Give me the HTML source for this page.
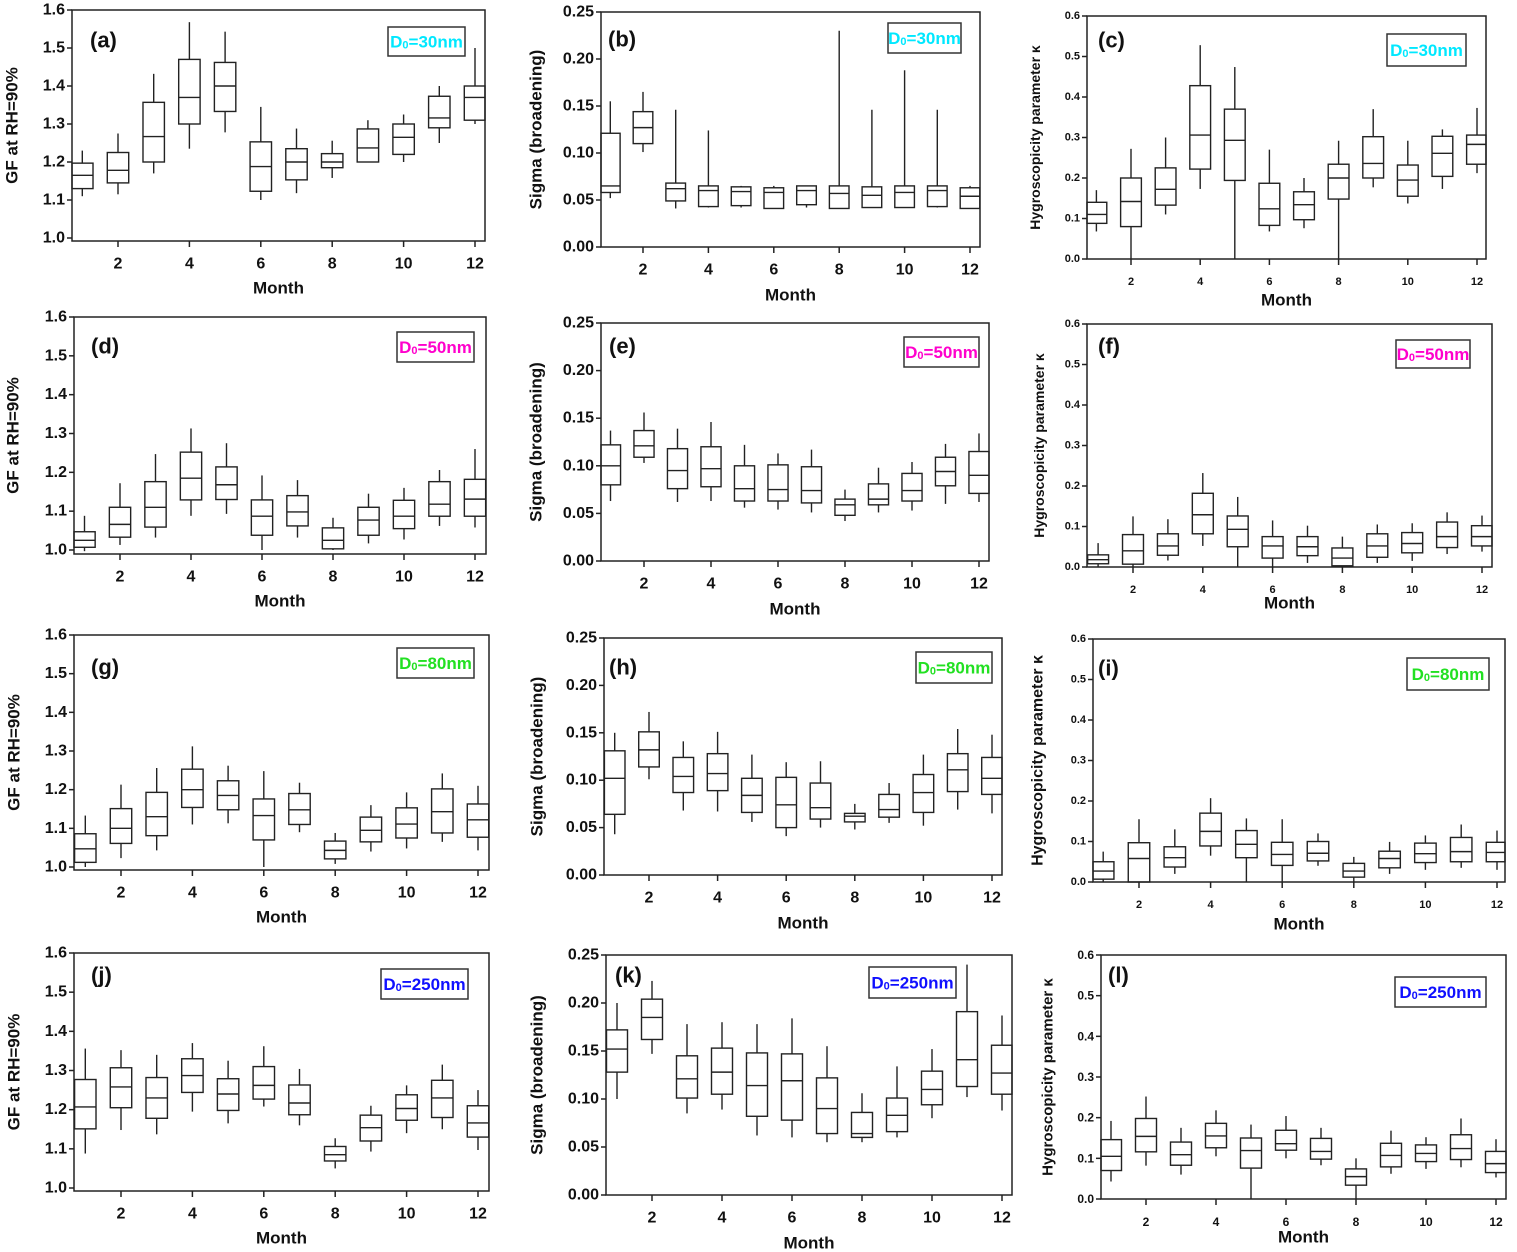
<!DOCTYPE html>
<html><head><meta charset="utf-8">
<style>
html,body{margin:0;padding:0;background:#fff;}
svg{display:block;font-family:"Liberation Sans",Arial,sans-serif;font-weight:bold;}
</style></head>
<body>
<svg id="fig" width="1517" height="1252" viewBox="0 0 1517 1252" xmlns="http://www.w3.org/2000/svg"></svg>
<script>
// ---- data: each month [whiskerLow, q1, median, q3, whiskerHigh]
const months = [1,2,3,4,5,6,7,8,9,10,11,12];
const xTickLabels = ["2","4","6","8","10","12"];
const gfTicks = ["1.0","1.1","1.2","1.3","1.4","1.5","1.6"];
const sigmaTicks = ["0.00","0.05","0.10","0.15","0.20","0.25"];
const kappaTicks = ["0.0","0.1","0.2","0.3","0.4","0.5","0.6"];
const dataA = [[1.11,1.13,1.165,1.197,1.23],[1.115,1.145,1.178,1.225,1.275],[1.17,1.2,1.267,1.357,1.432],[1.235,1.3,1.37,1.47,1.568],[1.278,1.333,1.4,1.462,1.543],[1.1,1.123,1.188,1.253,1.345],[1.118,1.153,1.2,1.235,1.288],[1.158,1.185,1.2,1.222,1.256],[1.2,1.2,1.237,1.287,1.31],[1.2,1.22,1.265,1.3,1.325],[1.25,1.29,1.316,1.373,1.4],[1.3,1.31,1.37,1.4,1.5]];
const dataB = [[.052,.058,.065,.121,.155],[.101,.11,.127,.144,.165],[.041,.049,.062,.068,.146],[.042,.043,.06,.065,.124],[.042,.044,.059,.064,.065],[.041,.041,.058,.063,.065],[.042,.045,.06,.065,.065],[.041,.041,.057,.065,.23],[.042,.042,.055,.064,.146],[.042,.042,.058,.065,.188],[.042,.043,.06,.065,.146],[.041,.041,.054,.063,.065]];
const dataC = [[.068,.088,.11,.14,.17],[0,.08,.142,.2,.272],[.11,.133,.172,.225,.3],[.173,.222,.306,.428,.528],[0,.194,.293,.37,.474],[.068,.083,.124,.187,.27],[.076,.097,.134,.166,.2],[0,.148,.2,.234,.292],[.177,.2,.236,.302,.37],[.137,.155,.195,.232,.292],[.173,.204,.261,.303,.32],[.212,.234,.283,.306,.373]];
const dataD = [[.997,1.007,1.025,1.047,1.088],[1.013,1.033,1.066,1.11,1.172],[1.032,1.059,1.11,1.176,1.247],[1.088,1.129,1.185,1.252,1.313],[1.093,1.13,1.168,1.214,1.275],[1.0,1.038,1.087,1.129,1.192],[1.032,1.062,1.098,1.14,1.18],[1.0,1.003,1.025,1.057,1.083],[1.017,1.038,1.077,1.11,1.145],[1.027,1.055,1.087,1.128,1.16],[1.062,1.087,1.118,1.176,1.206],[1.058,1.087,1.131,1.182,1.26]];
const dataE = [[.063,.08,.1,.122,.137],[.103,.109,.121,.137,.156],[.062,.076,.095,.118,.139],[.063,.078,.097,.12,.146],[.056,.063,.076,.1,.122],[.054,.063,.075,.101,.113],[.051,.061,.074,.099,.117],[.042,.048,.059,.065,.075],[.051,.059,.065,.081,.098],[.053,.063,.074,.092,.104],[.06,.079,.094,.109,.123],[.062,.071,.09,.115,.134]];
const dataF = [[0,.008,.018,.03,.059],[0,.007,.04,.08,.125],[.016,.029,.052,.082,.118],[.052,.082,.129,.182,.232],[0,.05,.093,.126,.173],[0,.022,.052,.075,.115],[.01,.028,.05,.075,.102],[0,.003,.022,.047,.075],[.01,.024,.052,.082,.105],[.015,.035,.058,.085,.108],[.032,.048,.075,.111,.135],[.038,.052,.075,.102,.127]];
const dataG = [[1.0,1.012,1.047,1.086,1.133],[1.023,1.061,1.1,1.151,1.213],[1.043,1.081,1.13,1.193,1.256],[1.11,1.154,1.2,1.253,1.312],[1.113,1.148,1.185,1.223,1.262],[1.0,1.07,1.133,1.176,1.248],[1.09,1.11,1.148,1.19,1.218],[1.008,1.021,1.043,1.067,1.088],[1.04,1.065,1.095,1.129,1.16],[1.048,1.075,1.111,1.153,1.193],[1.065,1.088,1.143,1.202,1.242],[1.043,1.077,1.122,1.163,1.21]];
const dataH = [[.043,.064,.102,.131,.15],[.101,.114,.132,.151,.172],[.068,.087,.104,.124,.141],[.067,.089,.107,.128,.151],[.056,.066,.084,.102,.127],[.041,.05,.074,.103,.119],[.05,.059,.071,.097,.12],[.048,.056,.062,.065,.075],[.055,.061,.069,.085,.097],[.052,.066,.087,.106,.127],[.069,.088,.111,.128,.154],[.065,.085,.102,.124,.148]];
const dataI = [[0,.007,.027,.05,.075],[0,0,.058,.097,.155],[.02,.037,.06,.087,.13],[.065,.089,.125,.17,.207],[0,.06,.093,.127,.157],[0,.041,.068,.098,.155],[.04,.052,.071,.1,.12],[0,.012,.027,.046,.062],[.02,.035,.058,.076,.099],[.03,.048,.07,.096,.115],[.035,.05,.075,.11,.142],[.03,.05,.073,.098,.127]];
const dataJ = [[1.088,1.151,1.207,1.277,1.356],[1.148,1.205,1.258,1.307,1.352],[1.137,1.178,1.23,1.282,1.34],[1.195,1.244,1.287,1.33,1.37],[1.165,1.198,1.24,1.279,1.325],[1.208,1.227,1.262,1.31,1.362],[1.16,1.187,1.217,1.263,1.304],[1.05,1.069,1.085,1.106,1.127],[1.093,1.12,1.154,1.186,1.21],[1.14,1.173,1.203,1.238,1.262],[1.15,1.18,1.23,1.275,1.315],[1.097,1.13,1.166,1.21,1.25]];
const dataK = [[.1,.128,.152,.172,.2],[.147,.162,.185,.204,.223],[.085,.101,.121,.145,.178],[.089,.105,.128,.153,.18],[.062,.082,.114,.148,.178],[.06,.078,.119,.147,.184],[.055,.064,.09,.122,.155],[.055,.06,.064,.086,.106],[.06,.066,.083,.101,.134],[.08,.094,.11,.129,.152],[.102,.113,.141,.191,.24],[.088,.105,.127,.156,.187]];
const dataL = [[.043,.07,.105,.146,.192],[.082,.116,.154,.198,.252],[.06,.083,.109,.14,.175],[.105,.126,.155,.186,.218],[0,.076,.119,.15,.183],[.1,.12,.136,.169,.204],[.083,.098,.117,.149,.175],[0,.034,.055,.074,.1],[.062,.079,.107,.137,.168],[.074,.092,.112,.133,.152],[.078,.097,.124,.158,.198],[.053,.065,.087,.117,.147]];

const svg = document.getElementById('fig');
const NS = 'http://www.w3.org/2000/svg';
function mk(tag, attrs, parent){const e=document.createElementNS(NS,tag);for(const k in attrs)e.setAttribute(k,attrs[k]);(parent||svg).appendChild(e);return e;}

const GF={ticks:gfTicks,min:1.0,max:1.6,label:'GF at RH=90%'};
const SG={ticks:sigmaTicks,min:0,max:0.25,label:'Sigma (broadening)'};
const KP={ticks:kappaTicks,min:0,max:0.6,label:'Hygroscopicity parameter κ'};
const CY='#00e8ff',MG='#ff00cc',GR='#22e022',BL='#1010ff';
const panels=[
 {id:'a',d:dataA,ax:GF,x0:72,x1:485,pTop:10,pMin:238,bot:241,m2:118,m12:475,yl:12,tf:16,lf:17,mt:288,lg:[388,27,77,29],sz:'30nm',c:CY,pl:[90,40]},
 {id:'b',d:dataB,ax:SG,x0:601,x1:980,pTop:12,pMin:247,bot:247,m2:643,m12:970,yl:536,tf:16,lf:17,mt:295,lg:[888,23,73,30],sz:'30nm',c:CY,pl:[608,39]},
 {id:'c',d:dataC,ax:KP,x0:1087,x1:1486,pTop:16,pMin:259,bot:259,m2:1131,m12:1477,yl:1035,tf:11,lf:14,mt:300,lg:[1387,34,79,32],sz:'30nm',c:CY,pl:[1098,40]},
 {id:'d',d:dataD,ax:GF,x0:74,x1:486,pTop:317,pMin:550,bot:554,m2:120,m12:475,yl:13,tf:16,lf:17,mt:601,lg:[397,332,77,30],sz:'50nm',c:MG,pl:[91,346]},
 {id:'e',d:dataE,ax:SG,x0:601,x1:989,pTop:323,pMin:561,bot:561,m2:644,m12:979,yl:536,tf:16,lf:17,mt:609,lg:[904,337,75,30],sz:'50nm',c:MG,pl:[609,346]},
 {id:'f',d:dataF,ax:KP,x0:1087,x1:1492,pTop:324,pMin:567,bot:567,m2:1133,m12:1482,yl:1039,tf:11,lf:14,mt:603,lg:[1396,340,74,28],sz:'50nm',c:MG,pl:[1098,346]},
 {id:'g',d:dataG,ax:GF,x0:74,x1:489,pTop:635,pMin:867,bot:870,m2:121,m12:478,yl:14,tf:16,lf:17,mt:917,lg:[397,648,77,30],sz:'80nm',c:GR,pl:[91,667]},
 {id:'h',d:dataH,ax:SG,x0:604,x1:1002,pTop:638,pMin:875,bot:875,m2:649,m12:992,yl:537,tf:16,lf:17,mt:923,lg:[916,652,76,31],sz:'80nm',c:GR,pl:[609,667]},
 {id:'i',d:dataI,ax:KP,x0:1093,x1:1505,pTop:639,pMin:882,bot:882,m2:1139,m12:1497,yl:1038,tf:11,lf:16,mt:924,lg:[1407,658,82,32],sz:'80nm',c:GR,pl:[1098,668]},
 {id:'j',d:dataJ,ax:GF,x0:74,x1:489,pTop:953,pMin:1188,bot:1191,m2:121,m12:478,yl:14,tf:16,lf:17,mt:1238,lg:[381,969,87,30],sz:'250nm',c:BL,pl:[91,975]},
 {id:'k',d:dataK,ax:SG,x0:606,x1:1012,pTop:955,pMin:1195,bot:1195,m2:652,m12:1002,yl:537,tf:16,lf:17,mt:1243,lg:[869,967,87,31],sz:'250nm',c:BL,pl:[615,975]},
 {id:'l',d:dataL,ax:KP,x0:1101,x1:1506,pTop:955,pMin:1199,bot:1199,m2:1146,m12:1496,yl:1048,tf:12,lf:15,mt:1237,lg:[1395,977,91,30],sz:'250nm',c:BL,pl:[1108,975]},
];

panels.forEach(p=>{
  const g=mk('g',{});
  
  
  const step=(p.m12-p.m2)/10;
  const xs=m=>p.m2+(m-2)*step;
  const ys=v=>p.pMin-(v-p.ax.min)/(p.ax.max-p.ax.min)*(p.pMin-p.pTop);
  const frame=mk('rect',{x:p.x0,y:p.pTop,width:p.x1-p.x0,height:p.bot-p.pTop,fill:'none',stroke:'#222','stroke-width':1.5},g);
  
  
  p.ax.ticks.forEach(t=>{
    const y=ys(parseFloat(t));
    mk('line',{x1:p.x0-5,x2:p.x0,y1:y,y2:y,stroke:'#222','stroke-width':1.5},g);
    const tx=mk('text',{x:p.x0-7,y:y,'font-size':p.tf,'text-anchor':'end','dominant-baseline':'central',fill:'#111'},g);
    
    
    tx.textContent=t;
  });
  xTickLabels.forEach(t=>{
    const x=xs(parseFloat(t));
    mk('line',{x1:x,x2:x,y1:p.bot,y2:p.bot+6,stroke:'#222','stroke-width':1.5},g);
    const tx=mk('text',{x:x,y:p.bot+23,'font-size':p.tf,'text-anchor':'middle','dominant-baseline':'central',fill:'#111'},g);
    
    
    tx.textContent=t;
  });
  const hw=step*0.3;
  months.forEach((m,i)=>{
    const v=p.d[i], x=xs(m);
    const bg=mk('g',{stroke:'#222','stroke-width':1.4,fill:'none'},g);
    
    
    mk('line',{x1:x,x2:x,y1:ys(v[0]),y2:ys(v[1])},bg);
    mk('line',{x1:x,x2:x,y1:ys(v[3]),y2:ys(v[4])},bg);
    const bl=Math.max(x-hw,p.x0), br=Math.min(x+hw,p.x1);
    mk('rect',{x:bl,y:ys(v[3]),width:br-bl,height:ys(v[1])-ys(v[3])},bg);
    mk('line',{x1:bl,x2:br,y1:ys(v[2]),y2:ys(v[2])},bg);
  });
  const mt=mk('text',{x:(p.x0+p.x1)/2,y:p.mt,'font-size':17,'text-anchor':'middle','dominant-baseline':'central',fill:'#111'},g);
  
  
  mt.textContent='Month';
  const cy=(p.pTop+p.bot)/2;
  const yt=mk('text',{x:p.yl,y:cy,'font-size':p.lf,'text-anchor':'middle','dominant-baseline':'central',fill:'#111',transform:'rotate(-90 '+p.yl+' '+cy+')'},g);
  
  
  yt.textContent=p.ax.label;
  const pl=mk('text',{x:p.pl[0],y:p.pl[1],'font-size':22,'dominant-baseline':'central',fill:'#111'},g);
  
  
  pl.textContent='('+p.id+')';
  const L=p.lg;
  const lr=mk('rect',{x:L[0],y:L[1],width:L[2],height:L[3],fill:'#fff',stroke:'#333','stroke-width':1.5},g);
  
  
  const lt=mk('text',{x:L[0]+L[2]/2,y:L[1]+L[3]/2,'font-size':17,'text-anchor':'middle','dominant-baseline':'central',fill:p.c},g);
  
  
  const t1=mk('tspan',{},lt); t1.textContent='D';
  const t2=mk('tspan',{'font-size':11,dy:4},lt); t2.textContent='0';
  const t3=mk('tspan',{dy:-4},lt); t3.textContent='='+p.sz;
});
</script>
</body></html>
